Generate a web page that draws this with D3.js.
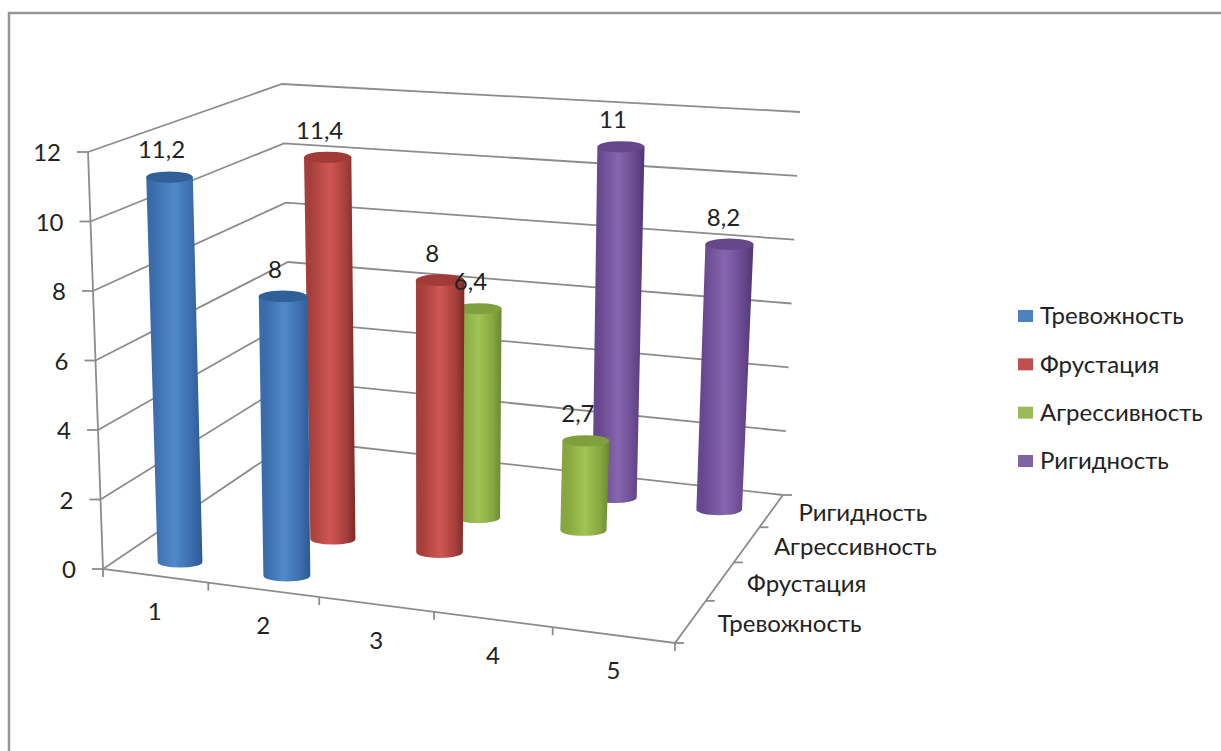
<!DOCTYPE html>
<html lang="ru">
<head>
<meta charset="utf-8">
<title>Диаграмма</title>
<script src="https://cdn.jsdelivr.net/npm/d3@7/dist/d3.min.js"></script>
<style>
  html, body { margin: 0; padding: 0; background: #fff; }
  svg { display: block; }
  text { font-family: Lato, "Open Sans", sans-serif; fill: #222; }
</style>
</head>
<body>
<svg id="chart" width="1221" height="751"></svg>
<script>
// Chart contents
const categories = ["1", "2", "3", "4", "5"];
const seriesNames = ["Тревожность", "Фрустация", "Агрессивность", "Ригидность"];
const anxiety = [11.2, 8, null, null, null];
const frustration = [null, 11.4, 8, null, null];
const aggression = [null, null, 6.4, 2.7, null];
const rigidity = [null, null, null, 11, 8.2];
const seriesValues = [anxiety, frustration, aggression, rigidity];
const valueTicks = [0, 2, 4, 6, 8, 10, 12];

// Fills per series: left edge, centre, right edge, cap
const palette = [
  ["#3a6cab", "#5089c9", "#2c5a92", "#2f6098"],
  ["#a53f3b", "#d05652", "#7c2a27", "#a23a37"],
  ["#86a63f", "#a0c456", "#6b8733", "#80a03d"],
  ["#67488f", "#8666ae", "#4f3672", "#66478c"]
];
const legendFill = ["#4f81bd", "#c0504d", "#9bbb59", "#8064a2"];

const W = 1221, H = 751;
const svg = d3.select("#chart");

// Width and depth bands on the floor, normalised to a unit square
const xBand = d3.scaleBand().domain(categories).range([0, 1]);
const zBand = d3.scaleBand().domain(seriesNames).range([0, 1]);
const yScale = d3.scaleLinear().domain([0, 12]).range([0, 1]);
// Slight extra foreshortening along the front edge
const xWarp = d3.scalePow().exponent(1.02).domain([0, 1]).range([0, 1]);

// Screen corners of the chart box: front-left, front-right, back-right, back-left
const floorQuad = [[103, 569], [675, 643], [783, 495], [294, 440]];
const ceilQuad = [[88, 152], [697, 192], [800, 112], [282, 84]];

// Projective map of the unit square onto a quadrilateral
function squareToQuad(q) {
  const [[x0, y0], [x1, y1], [x2, y2], [x3, y3]] = q;
  const dx1 = x1 - x2, dx2 = x3 - x2, sx = x0 - x1 + x2 - x3;
  const dy1 = y1 - y2, dy2 = y3 - y2, sy = y0 - y1 + y2 - y3;
  const det = dx1 * dy2 - dx2 * dy1;
  const g = (sx * dy2 - dx2 * sy) / det;
  const h = (dx1 * sy - sx * dy1) / det;
  const a = x1 - x0 + g * x1, b = x3 - x0 + h * x3;
  const d = y1 - y0 + g * y1, e = y3 - y0 + h * y3;
  return (u, v) => {
    const w = g * u + h * v + 1;
    return [(a * u + b * v + x0) / w, (d * u + e * v + y0) / w];
  };
}
const onFloor = squareToQuad(floorQuad);
const onCeil = squareToQuad(ceilQuad);

// u, v in the unit square, value on the vertical axis
function project(u, v, value) {
  const t = yScale(value);
  const a = onFloor(xWarp(u), v), b = onCeil(xWarp(u), v);
  return [a[0] + (b[0] - a[0]) * t, a[1] + (b[1] - a[1]) * t];
}

const line = d3.line();
const gridColor = "#8c8c8c";

// Outer frame of the chart area
svg.append("path")
  .attr("d", line([[9, H], [9, 13], [W, 13]]))
  .attr("fill", "none").attr("stroke", "#969696").attr("stroke-width", 2.5);

// Gridlines along the side and back walls
const grid = svg.append("g").attr("fill", "none").attr("stroke", gridColor).attr("stroke-width", 1.8);
valueTicks.forEach(t => {
  grid.append("path").attr("d", line([project(0, 0, t), project(0, 1, t), project(1, 1, t)]));
});

// Axis lines and tick marks
const axes = svg.append("g").attr("fill", "none").attr("stroke", gridColor).attr("stroke-width", 1.8);
axes.append("path").attr("d", line([project(0, 0, 12), project(0, 0, 0), project(1, 0, 0), project(1, 1, 0)]));
valueTicks.forEach(t => {
  const p = project(0, 0, t);
  axes.append("path").attr("d", line([[p[0] - 11, p[1]], p]));
});
d3.range(categories.length + 1).forEach(i => {
  const p = project(i / categories.length, 0, 0);
  axes.append("path").attr("d", line([p, [p[0], p[1] + 8]]));
});
d3.range(seriesNames.length + 1).forEach(i => {
  const p = project(1, i / seriesNames.length, 0);
  axes.append("path").attr("d", line([p, [p[0] + 9, p[1]]]));
});

// Value axis labels
const fontSize = 24;
svg.append("g").selectAll("text").data(valueTicks).join("text")
  .attr("text-anchor", "end").attr("dy", "0.35em").attr("font-size", fontSize)
  .attr("x", d => project(0, 0, d)[0] - 27)
  .attr("y", d => project(0, 0, d)[1] + 1)
  .text(d => d);

// Category labels under the front edge
svg.append("g").selectAll("text").data(categories).join("text")
  .attr("text-anchor", "middle").attr("dy", "0.35em").attr("font-size", fontSize)
  .attr("x", d => project(xBand(d) + xBand.bandwidth() / 2, 0, 0)[0])
  .attr("y", d => project(xBand(d) + xBand.bandwidth() / 2, 0, 0)[1] + 36)
  .text(d => d);

// Series labels along the depth edge
svg.append("g").selectAll("text").data(seriesNames).join("text")
  .attr("dy", "0.35em").attr("font-size", fontSize)
  .attr("x", d => project(1, zBand(d) + zBand.bandwidth() / 2, 0)[0] + 27)
  .attr("y", d => project(1, zBand(d) + zBand.bandwidth() / 2, 0)[1] + 2)
  .text(d => d);

// Shaded cylinder fills
const defs = svg.append("defs");
palette.forEach((c, i) => {
  const g = defs.append("linearGradient").attr("id", "cyl" + i);
  [[0, c[0]], [0.12, c[0]], [0.5, c[1]], [0.82, c[0]], [1, c[2]]].forEach(([o, col]) => {
    g.append("stop").attr("offset", o).attr("stop-color", col);
  });
});

// Cylinders, rear series first so nearer ones overlap them
const radiusFrac = 0.215;
const ryRatio = 0.24;
const depthNudge = -0.02;
const dropPx = 2.5;
const labels = [];
const bars = svg.append("g");
d3.range(seriesNames.length - 1, -1, -1).forEach(si => {
  const v = zBand(seriesNames[si]) + zBand.bandwidth() / 2 + depthNudge;
  seriesValues[si].forEach((val, ci) => {
    if (val == null) return;
    const u = xBand(categories[ci]) + xBand.bandwidth() / 2;
    const du = xBand.bandwidth() * radiusFrac;
    const halfWidth = value => (project(u + du, v, value)[0] - project(u - du, v, value)[0]) / 2;
    const b = project(u, v, 0), t = project(u, v, val);
    const base = [b[0] + 3, b[1] + dropPx], top = [t[0] + 4, t[1] + dropPx];
    const rb = halfWidth(0), rt = halfWidth(val);
    const body = `M${top[0] - rt},${top[1]}L${base[0] - rb},${base[1]}`
      + `A${rb},${rb * ryRatio} 0 0 0 ${base[0] + rb},${base[1]}`
      + `L${top[0] + rt},${top[1]}Z`;
    bars.append("path").attr("d", body).attr("fill", `url(#cyl${si})`);
    bars.append("ellipse")
      .attr("cx", top[0]).attr("cy", top[1])
      .attr("rx", rt).attr("ry", rt * ryRatio)
      .attr("fill", palette[si][3]);
    // The rearmost, rightmost label sits a little nearer its cylinder's axis
    const labelDx = si === 3 && ci === 4 ? -6 : -8;
    labels.push({ val, x: top[0] + labelDx, y: top[1] - 27 });
  });
});

// Value labels above the cylinders
svg.append("g").selectAll("text").data(labels).join("text")
  .attr("text-anchor", "middle").attr("dy", "0.35em").attr("font-size", fontSize)
  .attr("x", d => d.x).attr("y", d => d.y)
  .text(d => String(d.val).replace(".", ","));

// Legend
const legendY = d3.scalePoint().domain(seriesNames).range([316, 461]);
const legend = svg.append("g").selectAll("g").data(seriesNames).join("g")
  .attr("transform", d => `translate(1018,${legendY(d)})`);
legend.append("rect").attr("y", -6).attr("width", 15).attr("height", 12)
  .attr("fill", (d, i) => legendFill[i]);
legend.append("text").attr("x", 22).attr("dy", "0.35em").attr("font-size", fontSize).text(d => d);
</script>
</body>
</html>
